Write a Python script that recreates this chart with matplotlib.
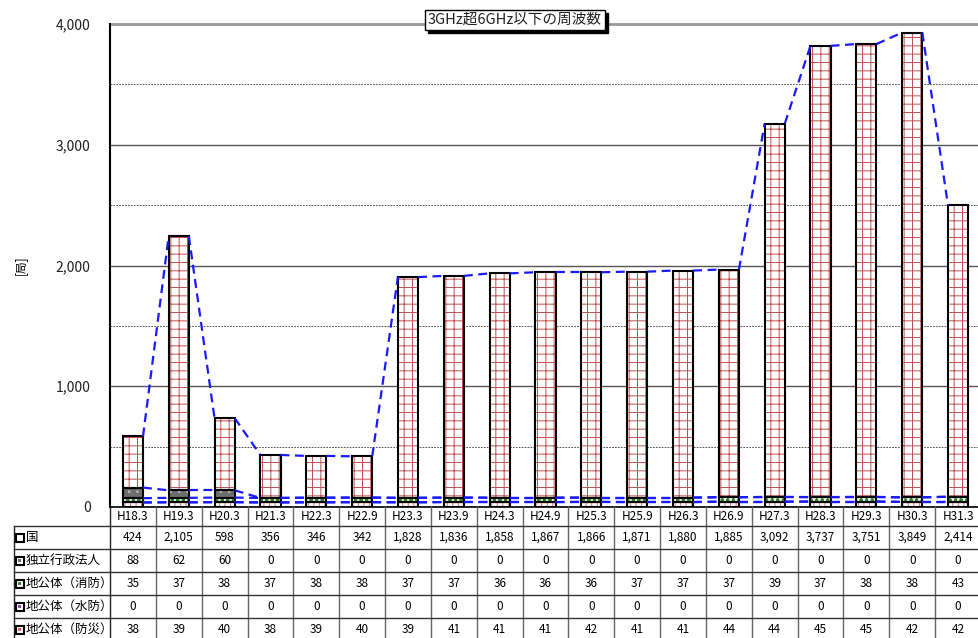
import numpy as np
import matplotlib
matplotlib.use('Agg')
import matplotlib.pyplot as plt
from matplotlib.patches import Rectangle
from matplotlib import transforms

plt.rcParams['font.family'] = ['Noto Sans CJK JP', 'DejaVu Sans']
plt.rcParams['hatch.linewidth'] = 0.7

# datos
cats = ['H18.3', 'H19.3', 'H20.3', 'H21.3', 'H22.3', 'H22.9', 'H23.3', 'H23.9', 'H24.3', 'H24.9',
        'H25.3', 'H25.9', 'H26.3', 'H26.9', 'H27.3', 'H28.3', 'H29.3', 'H30.3', 'H31.3']
kuni      = [424, 2105, 598, 356, 346, 342, 1828, 1836, 1858, 1867, 1866, 1871, 1880, 1885, 3092, 3737, 3751, 3849, 2414]
dokuritsu = [88, 62, 60, 0, 0, 0, 0, 0, 0, 0, 0, 0, 0, 0, 0, 0, 0, 0, 0]
shobo     = [35, 37, 38, 37, 38, 38, 37, 37, 36, 36, 36, 37, 37, 37, 39, 37, 38, 38, 43]
suibo     = [0, 0, 0, 0, 0, 0, 0, 0, 0, 0, 0, 0, 0, 0, 0, 0, 0, 0, 0]
bosai     = [38, 39, 40, 38, 39, 40, 39, 41, 41, 41, 42, 41, 41, 44, 44, 45, 45, 42, 42]
names = ['国', '独立行政法人', '地公体（消防）', '地公体（水防）', '地公体（防災）']
title = '3GHz超6GHz以下の周波数'

W, H = 979, 638
fig = plt.figure(figsize=(W/100, H/100), dpi=100)
colw = (981 - 110) / 19
ax = fig.add_axes([110/W, 1 - 507/H, (981 - 110)/W, (507 - 24)/H])

x = np.arange(len(cats))
w = 0.44

# estilos de cada capa (de abajo hacia arriba)
capas = [
    (bosai,     'white',   '#e87070', '|||'),
    (suibo,     'white',   '#a040a0', '|||'),
    (shobo,     'white',   '#2e8b2e', 'ooo'),
    (dokuritsu, '#6e6e6e', '#b8b8b8', '..'),
    (kuni,      'white',   '#c05050', '++'),
]

bottom = np.zeros(len(cats))
tops = []
for vals, fc, hc, hatch in capas:
    v = np.array(vals, dtype=float)
    ax.bar(x, v, w, bottom=bottom, color=fc, edgecolor=hc, hatch=hatch, linewidth=0, zorder=2)
    ax.bar(x, v, w, bottom=bottom, fill=False, edgecolor='black', linewidth=1.5, zorder=3)
    bottom = bottom + v
    tops.append(bottom.copy())

# lineas de serie (discontinuas azules)
for t in tops:
    for i in range(len(cats) - 1):
        ax.plot([x[i] + w/2, x[i+1] - w/2], [t[i], t[i+1]], color='#1a1aff',
                ls=(0, (4, 2.5)), lw=1.6, zorder=4)

ax.set_xlim(-0.5, len(cats) - 0.5)
ax.set_ylim(0, 4000)
ax.set_xticks([])
ax.set_yticks([0, 1000, 2000, 3000, 4000])
ax.set_yticklabels(['{:,}'.format(v) for v in [0, 1000, 2000, 3000, 4000]])
ax.set_yticks([500, 1500, 2500, 3500], minor=True)
ax.tick_params(axis='y', which='both', length=0, pad=14, labelsize=10, colors='#222222')
ax.grid(which='major', axis='y', color='#555555', lw=1)
ax.grid(which='minor', axis='y', color='#333333', ls=(0, (2, 1.5)), lw=0.6)
ax.set_axisbelow(True)
ax.axhline(4000, color='#999999', lw=2, clip_on=False, zorder=1)
for s in ['top', 'right']:
    ax.spines[s].set_visible(False)
ax.spines['left'].set_linewidth(1.5)
ax.spines['bottom'].set_linewidth(1.2)

fig.text(20/W, 1 - 265/H, '[局]', rotation=90, ha='center', va='center', fontsize=8.5)

# titulo con sombra
t = fig.text(515/W, 1 - 20/H, title, ha='center', va='center', fontsize=10.5,
             color='#222222', bbox=dict(boxstyle='square,pad=0.2', fc='white', ec='black', lw=1), zorder=6)
fig.canvas.draw()
bb = t.get_bbox_patch().get_window_extent()
fig.add_artist(Rectangle((bb.x0 + 3, bb.y0 - 3), bb.width, bb.height, transform=None,
                         fc='black', ec='black', zorder=5))

# tabla de datos
tr = transforms.blended_transform_factory(ax.transData, fig.transFigure)
fy = lambda p: 1 - p / H
rows = [507, 526, 549, 572, 595, 618, 641]
xl = -0.5 - 96 / colw
xr = len(cats) - 0.5

def linea(xs, ys, c='#555555', lw=1.0):
    fig.add_artist(plt.Line2D(xs, ys, transform=tr, color=c, lw=lw, clip_on=False))

for k in range(len(cats) + 1):
    linea([k - 0.5, k - 0.5], [fy(507), fy(641)], c='#222222' if k == 0 else '#666666')
linea([xl, xl], [fy(526), fy(641)], c='#222222')
for p in rows[1:-1]:
    linea([xl, xr], [fy(p), fy(p)], c='#333333')

for i, c in enumerate(cats):
    fig.text(x[i], fy((rows[0] + rows[1]) / 2), c, transform=tr, ha='center', va='center', fontsize=8.5)

tabla = [kuni, dokuritsu, shobo, suibo, bosai]
llaves = ['white', '#6e6e6e', '#2e8b2e', '#a040a0', '#e06060']
px_tr = transforms.blended_transform_factory(fig.transFigure, fig.transFigure)
for r, (vals, nm, kc) in enumerate(zip(tabla, names, llaves)):
    yc = fy((rows[r+1] + rows[r+2]) / 2)
    fig.text(26/W, yc, nm, ha='left', va='center', fontsize=9)
    fig.add_artist(Rectangle((16/W, yc - 4/H), 8/W, 8/H, transform=px_tr, fc='white', ec='black', lw=1.5))
    fig.add_artist(Rectangle((18.5/W, yc - 1.5/H), 3/W, 3/H, transform=px_tr, fc=kc, ec='none'))
    for i, v in enumerate(vals):
        fig.text(x[i], yc, '{:,}'.format(v), transform=tr, ha='center', va='center', fontsize=8.5)

fig.savefig('out.png', dpi=100)
